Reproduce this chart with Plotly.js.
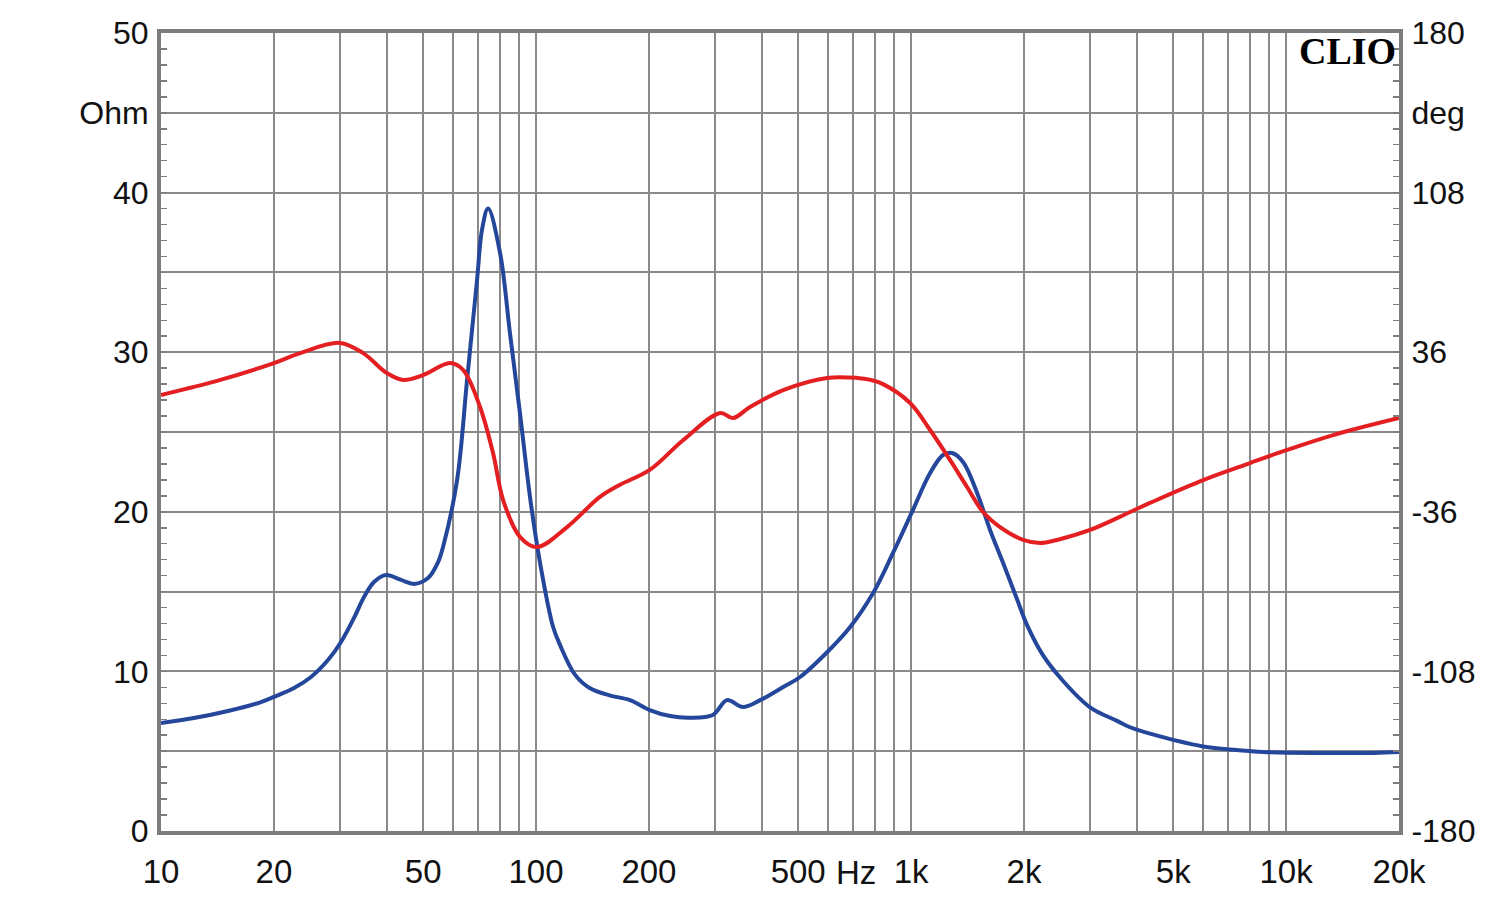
<!DOCTYPE html>
<html>
<head>
<meta charset="utf-8">
<script src="https://cdn.plot.ly/plotly-3.0.1.min.js"></script>
<style>
  html, body { margin: 0; padding: 0; background: #ffffff; }
  #chart { width: 1500px; height: 908px; }
</style>
</head>
<body>
<div id="chart"></div>
<script>
// ---- Data ----
// Impedance magnitude (blue), Ohm
const impFreqHz = [10, 12.24, 15.09, 18.48, 20, 22.63, 25.12, 27.88, 30.2, 32.71, 34.78, 36.98, 39.81, 43.65, 47.28, 51.52, 54.8, 56.5, 61.6, 65.5, 69.6, 71.8, 74.5, 80.2, 85.2, 90.7, 96.4, 102.5, 111, 115.9, 127, 139, 157, 178, 201, 228, 257, 296, 323, 356, 396, 456, 506, 597, 688, 792, 895, 1006, 1124, 1217, 1286, 1376, 1500, 1624, 1760, 1918, 2039, 2249, 2543, 3001, 3542, 3837, 4336, 6006, 7401, 8682, 12320, 17060, 20000];
const impedanceOhm = [6.77, 7.08, 7.52, 8.08, 8.40, 8.96, 9.65, 10.71, 11.84, 13.35, 14.66, 15.6, 16.04, 15.73, 15.48, 15.85, 16.85, 17.8, 22.0, 28.3, 34.5, 37.7, 39.0, 36.2, 31.2, 26.1, 20.9, 16.8, 12.8, 11.65, 9.8, 8.96, 8.5, 8.2, 7.58, 7.2, 7.1, 7.27, 8.2, 7.77, 8.2, 9.02, 9.65, 11.2, 12.78, 14.91, 17.42, 19.99, 22.43, 23.56, 23.68, 23.12, 21.18, 18.86, 16.79, 14.5, 12.9, 11.0, 9.4, 7.75, 6.9, 6.5, 6.1, 5.3, 5.07, 4.95, 4.89, 4.89, 4.95];

// Impedance phase (red), degrees
const phaseFreqHz = [10, 14.4, 20, 23.5, 30, 34.6, 40, 44.2, 50, 59, 63.9, 70.9, 76.8, 81.7, 90.7, 100.6, 121, 148, 167, 201, 247, 310, 335, 372, 456, 597, 718, 780, 842, 994, 1124, 1270, 1410, 1556, 1727, 1990, 2208, 2450, 3001, 3837, 4336, 6006, 8017, 10060, 13350, 20000];
const phaseDeg = [16.7, 23.5, 31.1, 35.6, 40.2, 35.6, 26.6, 23.5, 25.7, 31.1, 28, 11.3, -9.5, -30.7, -47.4, -51.9, -42.9, -29.3, -23.9, -17.1, -3.6, 8.6, 6.3, 11.3, 18.9, 24.4, 24.4, 23.5, 21.6, 13.1, 0.9, -12.6, -24.8, -36.1, -42.9, -48.7, -50.1, -48.7, -44.2, -36.1, -32.0, -21.7, -14.0, -8.1, -1.4, 6.3];

// Axis ticks
const xGridVals = [10,20,30,40,50,60,70,80,90,100,200,300,400,500,600,700,800,900,1000,2000,3000,4000,5000,6000,7000,8000,9000,10000,20000];
const xLabelMap = {10:'10', 20:'20', 50:'50', 100:'100', 200:'200', 500:'500', 1000:'1k', 2000:'2k', 5000:'5k', 10000:'10k', 20000:'20k'};
const xTickText = xGridVals.map(v => xLabelMap[v] || '');

const ohmTickVals = [0,5,10,15,20,25,30,35,40,45,50];
const ohmTickText = ['0','','10','','20','','30','','40','Ohm','50'];
const degTickVals = [-180,-144,-108,-72,-36,0,36,72,108,144,180];
const degTickText = ['-180','','-108','','-36','','36','','108','deg','180'];

const ohmMinor = []; for (let i = 0; i <= 50; i++) ohmMinor.push(i);
const degMinor = []; for (let i = 0; i <= 50; i++) degMinor.push(-180 + i * 7.2);

// ---- Styles ----
const gridCol = '#8a8a8a';
const frameCol = '#7d7d7d';
const labelFont = {family: 'Liberation Sans, Arial, sans-serif', size: 32, color: '#111111'};

const traces = [
  {
    x: phaseFreqHz, y: phaseDeg, yaxis: 'y2', type: 'scatter', mode: 'lines',
    line: {color: '#e41f22', width: 4, shape: 'spline', smoothing: 1.0},
    hoverinfo: 'skip'
  },
  {
    x: impFreqHz, y: impedanceOhm, yaxis: 'y', type: 'scatter', mode: 'lines',
    line: {color: '#25479b', width: 4, shape: 'spline', smoothing: 1.0},
    hoverinfo: 'skip'
  }
];

const layout = {
  width: 1500, height: 908,
  margin: {l: 161, r: 101, t: 33, b: 77, pad: 0},
  paper_bgcolor: '#ffffff', plot_bgcolor: '#ffffff',
  showlegend: false,
  xaxis: {
    type: 'log', range: [1, Math.log10(20000)],
    tickmode: 'array', tickvals: xGridVals, ticktext: xTickText,
    showgrid: true, gridcolor: gridCol, gridwidth: 2,
    showline: true, mirror: true, linecolor: frameCol, linewidth: 4,
    ticks: '', zeroline: false,
    tickfont: {family: labelFont.family, size: 33, color: labelFont.color},
    ticklabelstandoff: 8
  },
  yaxis: {
    range: [0, 50], tickmode: 'array', tickvals: ohmTickVals, ticktext: ohmTickText,
    showgrid: true, gridcolor: gridCol, gridwidth: 2,
    showline: true, mirror: true, linecolor: frameCol, linewidth: 4,
    ticks: 'inside', ticklen: 6, tickwidth: 1.5, tickcolor: frameCol,
    minor: {tickmode: 'array', tickvals: ohmMinor, ticks: 'inside', ticklen: 6, tickwidth: 1.5, tickcolor: frameCol, showgrid: false},
    zeroline: false, tickfont: labelFont, ticklabelstandoff: 2
  },
  yaxis2: {
    overlaying: 'y', side: 'right',
    range: [-180, 180], tickmode: 'array', tickvals: degTickVals, ticktext: degTickText,
    showgrid: false, showline: true, linecolor: frameCol, linewidth: 4,
    ticks: 'inside', ticklen: 6, tickwidth: 1.5, tickcolor: frameCol,
    minor: {tickmode: 'array', tickvals: degMinor, ticks: 'inside', ticklen: 6, tickwidth: 1.5, tickcolor: frameCol, showgrid: false},
    zeroline: false, tickfont: labelFont, ticklabelstandoff: 2
  },
  annotations: [
    {
      text: 'Hz', xref: 'paper', yref: 'paper', x: 0.5614, y: -0.052,
      xanchor: 'center', yanchor: 'middle', showarrow: false,
      font: {family: labelFont.family, size: 33, color: labelFont.color}
    },
    {
      text: '<b>CLIO</b>', xref: 'paper', yref: 'paper', x: 0.958, y: 0.977,
      xanchor: 'center', yanchor: 'middle', showarrow: false,
      font: {family: 'Liberation Serif, Times New Roman, serif', size: 38, color: '#000000'}
    }
  ]
};

Plotly.newPlot('chart', traces, layout, {staticPlot: true, displayModeBar: false});
</script>
</body>
</html>
